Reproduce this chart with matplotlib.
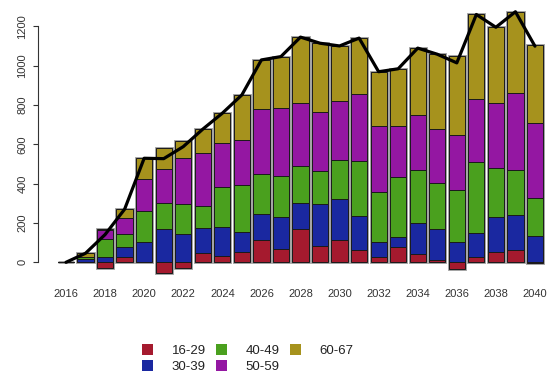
import numpy as np
import matplotlib
matplotlib.use("Agg")
import matplotlib.pyplot as plt
from matplotlib.patches import Patch

plt.rcParams['font.family'] = ['Liberation Sans', 'DejaVu Sans']

# data
years = np.arange(2016, 2041)
groups = ['16-29', '30-39', '40-49', '50-59', '60-67']
colors = ['#A51A2E', '#1A28A0', '#4AA01E', '#9417A2', '#A6921D']

age_16_29 = [0, 0, -30, 27, 0, -56, -29, 46, 34, 51, 114, 66, 168, 83, 114,
             63, 29, 80, 41, 12, -36, 25, 54, 64, -6]
age_30_39 = [0, 17, 27, 49, 103, 168, 144, 130, 148, 103, 130, 166, 132, 212, 208,
             170, 76, 48, 158, 157, 103, 122, 178, 176, 136]
age_40_49 = [0, 8, 90, 68, 156, 136, 151, 108, 200, 241, 207, 207, 190, 171, 198,
             280, 254, 305, 268, 235, 264, 364, 246, 229, 193]
age_50_59 = [0, 2, 47, 80, 163, 171, 234, 273, 224, 227, 327, 344, 319, 300, 302,
             344, 334, 261, 283, 276, 280, 320, 334, 393, 378]
age_60_67 = [0, 19, 7, 46, 107, 108, 88, 120, 152, 229, 251, 263, 336, 348, 278,
             283, 276, 290, 339, 378, 403, 429, 383, 412, 398]

series = np.array([age_16_29, age_30_39, age_40_49, age_50_59, age_60_67], dtype=float)
net = series.sum(axis=0)

W, H = 547, 372
fig = plt.figure(figsize=(W / 100, H / 100), dpi=100)

# axes placed in pixel terms (R-like plot region)
y0_px, per_unit = 262.3, 0.19667
ylim = (-100, 1300)
top_px = y0_px - per_unit * ylim[1]
bot_px = y0_px - per_unit * ylim[0]
left_px = 38.4
ax = fig.add_axes([left_px / W, (H - bot_px) / H, (W - left_px) / W, (bot_px - top_px) / H])
ax.set_ylim(*ylim)
step = 19.54
ax.set_xlim(2016 - (66 - left_px) / step, 2016 + (W - 66) / step)

bw = 0.833
pos = np.clip(series, 0, None)
neg = np.clip(series, None, 0)
pos_tot = pos.sum(axis=0)
neg_tot = neg.sum(axis=0)

# grey halo round each bar
ax.bar(years, pos_tot - neg_tot, bw, bottom=neg_tot, facecolor='none',
       edgecolor='#9a9a9a', linewidth=2.0, zorder=1)

pb = np.zeros(len(years))
nb = np.zeros(len(years))
for i in range(len(groups)):
    ax.bar(years, pos[i], bw, bottom=pb, color=colors[i], edgecolor='#1a1a1a',
           linewidth=0.7, zorder=2)
    pb += pos[i]
    m = neg[i] < 0
    ax.bar(years[m], neg[i][m], bw, bottom=nb[m], color=colors[i], edgecolor='#1a1a1a',
           linewidth=0.7, zorder=2)
    nb += neg[i]

ax.plot(years, net, color='black', lw=2.3, solid_joinstyle='round',
        solid_capstyle='round', zorder=3)

for s in ['top', 'right', 'bottom']:
    ax.spines[s].set_visible(False)
ax.spines['left'].set_bounds(0, 1200)
ax.spines['left'].set_linewidth(0.8)
ax.spines['left'].set_color('#333333')

ax.set_yticks(range(0, 1201, 200))
ax.tick_params(axis='y', length=3.6, width=0.8, color='#333333', pad=4.4,
               labelsize=8, labelcolor='#333333')
for t in ax.get_yticklabels():
    t.set_rotation(90)
    t.set_va('center')

ax.set_xticks(years[::2])
ax.set_xticklabels([str(y) for y in years[::2]])
ax.tick_params(axis='x', length=0, pad=4.8, labelsize=8, labelcolor='#333333')

handles = [Patch(facecolor=c, edgecolor='none') for c in colors]
fig.legend(handles, groups, ncol=3, frameon=False, loc='upper left',
           bbox_to_anchor=(141.7 / W, 1 - 344.0 / H), fontsize=9.5,
           handlelength=0.88, handleheight=0.88, handletextpad=1.4,
           columnspacing=0.75, labelspacing=0.22, borderpad=0, borderaxespad=0,
           labelcolor='#222222')

fig.savefig('out.png', dpi=100)
